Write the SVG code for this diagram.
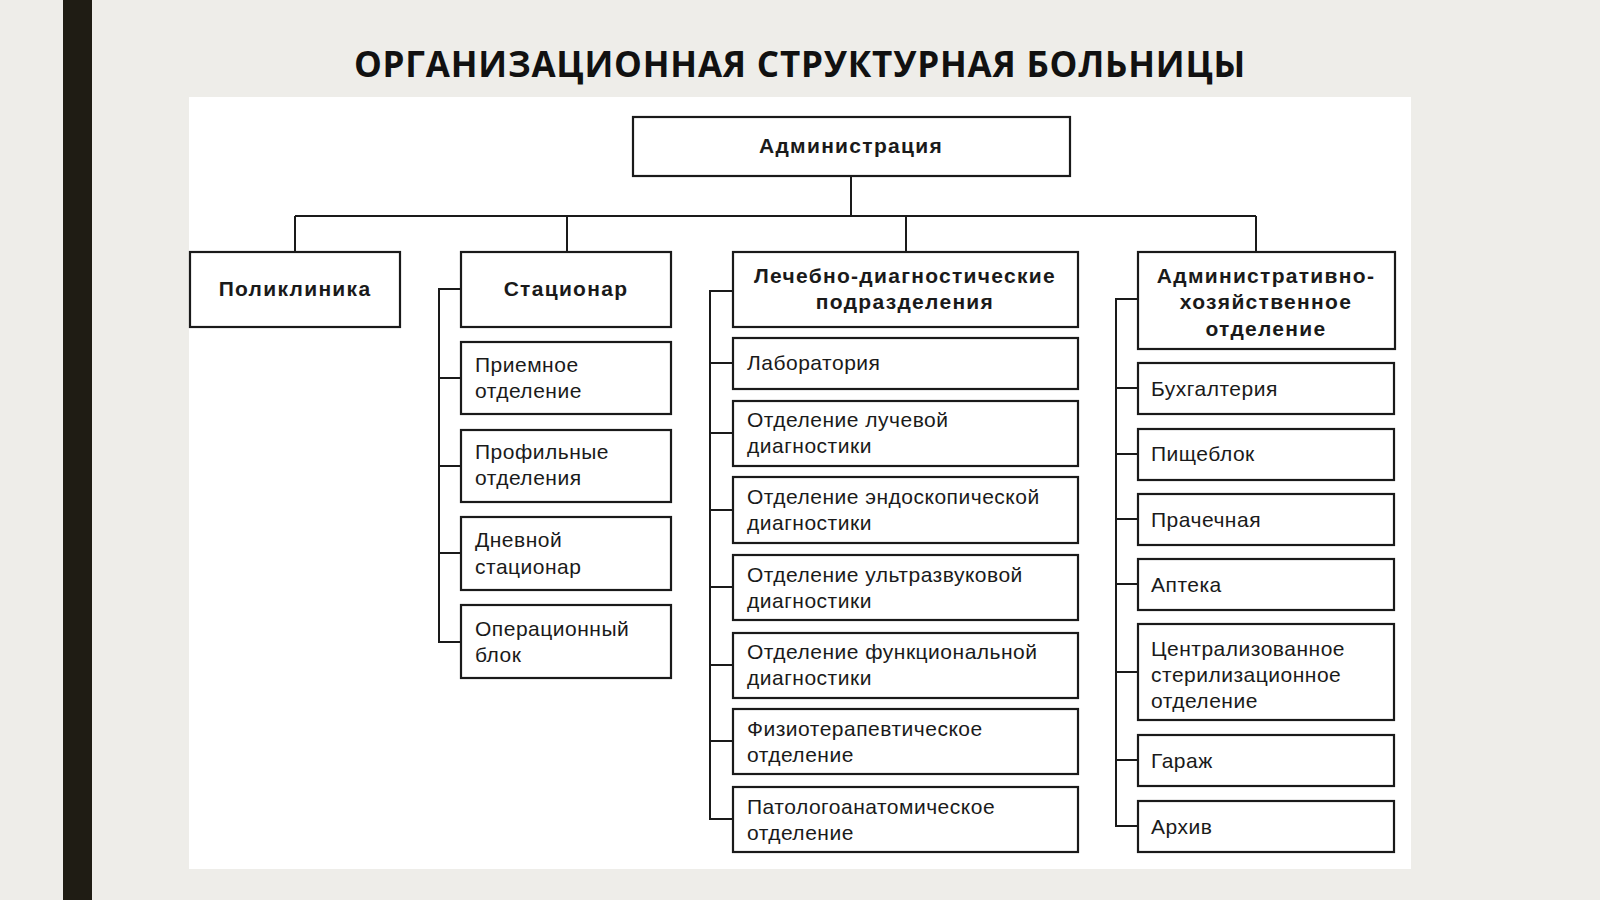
<svg xmlns="http://www.w3.org/2000/svg" width="1600" height="900" viewBox="0 0 1600 900">
<style>
.b{fill:#fff;stroke:#1a1a1a;stroke-width:2.2}
.t{font-family:"Liberation Sans",Arial,sans-serif;font-size:21px;letter-spacing:0.5px;fill:#1a1a1a}
.h{font-weight:bold;text-anchor:middle;letter-spacing:1.3px}
.c{fill:none;stroke:#1a1a1a;stroke-width:2}
</style>
<rect width="1600" height="900" fill="#eeede9"/>
<rect x="63" y="0" width="29" height="900" fill="#1f1c14"/>
<rect x="189" y="97" width="1222" height="772" fill="#fff"/>
<text x="800" y="77" text-anchor="middle" font-family="'Open Sans','Liberation Sans',sans-serif" font-weight="bold" font-size="35" letter-spacing="0.8" fill="#111">ОРГАНИЗАЦИОННАЯ СТРУКТУРНАЯ БОЛЬНИЦЫ</text>
<g id="connectors" class="c">
<path d="M851 176V216M295 216H1256M295 216V252M567 216V252M906 216V252M1256 216V252"/>
<path d="M461 289H439V642H461M439 378H461M439 466H461M439 553H461"/>
<path d="M733 291H710V819H733M710 363H733M710 433H733M710 510H733M710 587H733M710 665H733M710 741H733"/>
<path d="M1138 299H1116V826H1138M1116 388H1138M1116 454H1138M1116 519H1138M1116 584H1138M1116 672H1138M1116 760H1138"/>
</g>
<g id="n-admin"><rect class="b" x="633" y="117" width="437" height="59"/><text class="t h" x="851" y="153">Администрация</text></g>
<g id="n-poli"><rect class="b" x="190" y="252" width="210" height="75"/><text class="t h" x="295" y="296">Поликлиника</text></g>
<g id="n-stac"><rect class="b" x="461" y="252" width="210" height="75"/><text class="t h" x="566" y="296">Стационар</text></g>
<g id="n-lech"><rect class="b" x="733" y="252" width="345" height="75"/><text class="t h" x="905" y="283">Лечебно-диагностические</text><text class="t h" x="905" y="309">подразделения</text></g>
<g id="n-ahd"><rect class="b" x="1138" y="252" width="257" height="97"/><text class="t h" x="1266" y="283">Административно-</text><text class="t h" x="1266" y="309">хозяйственное</text><text class="t h" x="1266" y="336">отделение</text></g>
<g id="n-s1"><rect class="b" x="461" y="342" width="210" height="72"/><text class="t" x="475" y="372">Приемное</text><text class="t" x="475" y="398">отделение</text></g>
<g id="n-s2"><rect class="b" x="461" y="430" width="210" height="72"/><text class="t" x="475" y="459">Профильные</text><text class="t" x="475" y="485">отделения</text></g>
<g id="n-s3"><rect class="b" x="461" y="517" width="210" height="73"/><text class="t" x="475" y="547">Дневной</text><text class="t" x="475" y="574">стационар</text></g>
<g id="n-s4"><rect class="b" x="461" y="605" width="210" height="73"/><text class="t" x="475" y="636">Операционный</text><text class="t" x="475" y="662">блок</text></g>
<g id="n-l1"><rect class="b" x="733" y="338" width="345" height="51"/><text class="t" x="747" y="370">Лаборатория</text></g>
<g id="n-l2"><rect class="b" x="733" y="401" width="345" height="65"/><text class="t" x="747" y="427">Отделение лучевой</text><text class="t" x="747" y="453">диагностики</text></g>
<g id="n-l3"><rect class="b" x="733" y="477" width="345" height="66"/><text class="t" x="747" y="504">Отделение эндоскопической</text><text class="t" x="747" y="530">диагностики</text></g>
<g id="n-l4"><rect class="b" x="733" y="555" width="345" height="65"/><text class="t" x="747" y="582">Отделение ультразвуковой</text><text class="t" x="747" y="608">диагностики</text></g>
<g id="n-l5"><rect class="b" x="733" y="633" width="345" height="65"/><text class="t" x="747" y="659">Отделение функциональной</text><text class="t" x="747" y="685">диагностики</text></g>
<g id="n-l6"><rect class="b" x="733" y="709" width="345" height="65"/><text class="t" x="747" y="736">Физиотерапевтическое</text><text class="t" x="747" y="762">отделение</text></g>
<g id="n-l7"><rect class="b" x="733" y="787" width="345" height="65"/><text class="t" x="747" y="814">Патологоанатомическое</text><text class="t" x="747" y="840">отделение</text></g>
<g id="n-a1"><rect class="b" x="1138" y="363" width="256" height="51"/><text class="t" x="1151" y="396">Бухгалтерия</text></g>
<g id="n-a2"><rect class="b" x="1138" y="429" width="256" height="51"/><text class="t" x="1151" y="461">Пищеблок</text></g>
<g id="n-a3"><rect class="b" x="1138" y="494" width="256" height="51"/><text class="t" x="1151" y="527">Прачечная</text></g>
<g id="n-a4"><rect class="b" x="1138" y="559" width="256" height="51"/><text class="t" x="1151" y="592">Аптека</text></g>
<g id="n-a5"><rect class="b" x="1138" y="624" width="256" height="96"/><text class="t" x="1151" y="656">Централизованное</text><text class="t" x="1151" y="682">стерилизационное</text><text class="t" x="1151" y="708">отделение</text></g>
<g id="n-a6"><rect class="b" x="1138" y="735" width="256" height="51"/><text class="t" x="1151" y="768">Гараж</text></g>
<g id="n-a7"><rect class="b" x="1138" y="801" width="256" height="51"/><text class="t" x="1151" y="834">Архив</text></g>
</svg>
